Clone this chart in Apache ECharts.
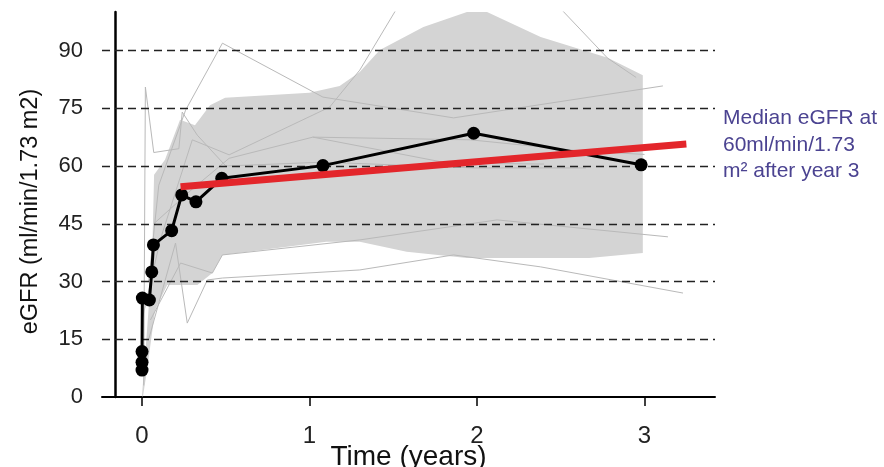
<!DOCTYPE html>
<html>
<head>
<meta charset="utf-8">
<script src="https://cdn.jsdelivr.net/npm/echarts@6/dist/echarts.min.js"></script>
<style>
  html, body { margin: 0; padding: 0; background: #ffffff; }
  #chart { width: 884px; height: 467px; }
</style>
</head>
<body>
<div id="chart"></div>
<script>
// Median eGFR over time (years after start)
const medianTime = [0, 0, 0, 0.002, 0.044, 0.058, 0.068, 0.177, 0.237, 0.322, 0.476, 1.08, 1.98, 2.98];
const medianEgfr = [7.0, 9.0, 11.8, 25.7, 25.2, 32.5, 39.5, 43.2, 52.5, 50.7, 56.8, 60.1, 68.5, 60.3];

// Linear trend after the first months
const trendTime = [0.23, 3.25];
const trendEgfr = [54.6, 65.7];

// Spread band: upper edge left to right, lower edge right to left
const bandUpperTime = [0, 0.03, 0.06, 0.072, 0.137, 0.227, 0.316, 0.406, 0.496, 1.0, 1.18, 1.3, 1.42, 1.68, 1.94, 2.06, 2.38, 2.78, 2.99];
const bandUpperEgfr = [0.5, 17.4, 35.6, 57.7, 61.6, 72.0, 70.6, 75.8, 77.7, 79.0, 80.8, 84.4, 90.1, 96.1, 100, 100, 93.5, 88.1, 83.6];
const bandLowerTime = [2.99, 2.67, 1.94, 1.58, 1.3, 1.1, 0.48, 0.42, 0.33, 0.15, 0.078, 0.03, 0.005];
const bandLowerEgfr = [37.4, 36.1, 36.1, 37.7, 40.3, 40.3, 36.9, 32.2, 29.1, 29.1, 22.6, 7.0, 0];

// Individual patient courses
const patientA = { t: [0.01, 0.02, 0.07, 0.22, 0.24, 0.33, 0.5, 1.08, 1.98, 2.65], v: [3, 80.5, 63.5, 64.5, 74, 68, 60, 61, 59.5, 59.5] };
const patientB = { t: [0.04, 0.1, 0.26, 0.48, 1.08, 1.86, 3.11], v: [30, 55, 74.5, 91.9, 77.9, 72.5, 80.8] };
const patientC = { t: [0.0, 0.11, 0.3, 0.52, 1.12, 1.3, 1.55], v: [20, 41, 66.8, 62.9, 75.3, 84.9, 103] };
const patientD = { t: [0.07, 0.3, 0.52, 1.02, 1.96, 2.6, 3.0], v: [45, 54, 62, 67.5, 66.8, 64, 63] };
const patientE = { t: [1.02, 1.82, 2.4], v: [67.5, 60.8, 60.5] };
const patientF = { t: [0.05, 0.23, 0.42, 0.48, 1.3, 2.12, 3.14], v: [20, 34.8, 32.2, 36.9, 40.8, 46.0, 41.6] };
const patientG = { t: [0.04, 0.2, 0.27, 0.39, 0.48, 1.3, 1.86, 2.38, 3.23], v: [15, 40, 19.2, 30.4, 30.9, 33.0, 36.9, 33.8, 27.0] };
const patientH = { t: [2.3, 2.78, 2.95], v: [110, 88, 83] };
const patients = [patientA, patientB, patientC, patientD, patientE, patientF, patientG, patientH];

// Axis ticks
const xTicks = [0, 1, 2, 3];
const yTicks = [0, 15, 30, 45, 60, 75, 90];
const yGridLines = [15, 30, 45, 60, 75, 90];

const pairs = (xs, ys) => xs.map((x, i) => [x, ys[i]]);
const bandPolygon = pairs(bandUpperTime, bandUpperEgfr).concat(pairs(bandLowerTime, bandLowerEgfr));

const FONT = 'Liberation Sans, Arial, sans-serif';
const chart = echarts.init(document.getElementById('chart'), null, { renderer: 'canvas' });

const series = [
  {
    name: 'band',
    type: 'custom',
    z: 1,
    silent: true,
    clip: true,
    data: bandPolygon,
    encode: { x: 0, y: 1 },
    renderItem: function (params, api) {
      if (params.dataIndex !== 0) return;
      const pts = bandPolygon.map(p => api.coord(p));
      return { type: 'polygon', shape: { points: pts }, style: { fill: '#d4d4d4' } };
    }
  },
  {
    name: 'grid',
    type: 'line',
    z: 3,
    data: [],
    silent: true,
    markLine: {
      silent: true,
      symbol: 'none',
      animation: false,
      label: { show: false },
      lineStyle: { type: [8, 5], color: '#222', width: 1.3 },
      data: yGridLines.map(v => ({ yAxis: v }))
    }
  }
];

patients.forEach((p, i) => {
  series.push({
    name: 'patient' + i,
    type: 'line',
    z: 4,
    silent: true,
    symbol: 'none',
    lineStyle: { color: '#b9b9b9', width: 1 },
    data: pairs(p.t, p.v)
  });
});

series.push({
  name: 'median',
  type: 'line',
  z: 6,
  symbol: 'circle',
  symbolSize: 13,
  itemStyle: { color: '#000' },
  lineStyle: { color: '#000', width: 3 },
  data: pairs(medianTime, medianEgfr)
});

series.push({
  name: 'trend',
  type: 'line',
  z: 7,
  symbol: 'none',
  lineStyle: { color: '#e3262b', width: 7, cap: 'butt' },
  data: pairs(trendTime, trendEgfr)
});

chart.setOption({
  animation: false,
  backgroundColor: '#ffffff',
  grid: { left: 102, right: 169, top: 12, bottom: 70, outerBoundsMode: 'none', containLabel: false },
  xAxis: {
    type: 'value',
    min: -0.239,
    max: 3.421,
    name: 'Time (years)',
    nameLocation: 'middle',
    nameGap: 46,
    nameMoveOverlap: false,
    nameTextStyle: { color: '#111', fontSize: 28, fontFamily: FONT },
    axisLine: { onZero: false, lineStyle: { color: '#000', width: 2 } },
    axisTick: { show: true, length: 9, customValues: xTicks, lineStyle: { color: '#000', width: 1.5 } },
    axisLabel: { customValues: xTicks, color: '#222', fontSize: 24, fontFamily: FONT, margin: 27 },
    splitLine: { show: false }
  },
  yAxis: {
    type: 'value',
    min: 0,
    max: 100,
    interval: 15,
    offset: -13,
    name: 'eGFR (ml/min/1.73 m2)',
    nameLocation: 'middle',
    nameGap: 72,
    nameMoveOverlap: false,
    nameTextStyle: { color: '#111', fontSize: 23.5, fontFamily: FONT, padding: [0, 14, 0, 0] },
    axisLine: { show: true, onZero: false, lineStyle: { color: '#000', width: 2.5 } },
    axisTick: { show: false },
    axisLabel: { customValues: yTicks, color: '#222', fontSize: 22, fontFamily: FONT, margin: 32 },
    splitLine: { show: false }
  },
  graphic: [
    {
      type: 'text',
      left: 723,
      top: 105,
      style: {
        text: 'Median eGFR at\n60ml/min/1.73\nm² after year 3',
        fill: '#4b4391',
        font: '21px ' + FONT,
        lineHeight: 26.5
      }
    }
  ],
  series: series
});
</script>
</body>
</html>
